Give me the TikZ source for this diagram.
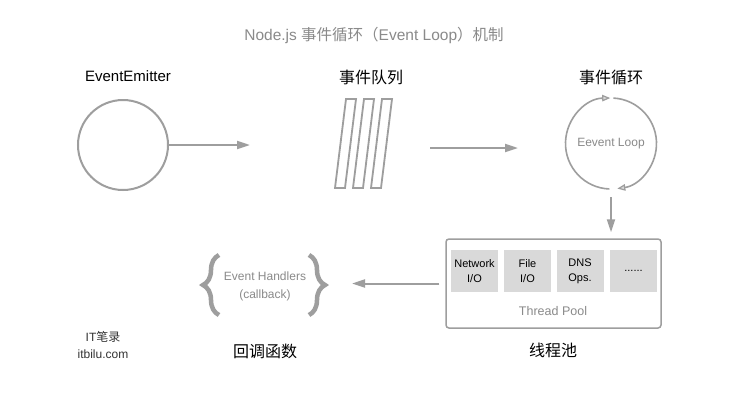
\documentclass[tikz,border=0pt]{standalone}
\usepackage{fontspec}
\setmainfont{Liberation Sans}
\newfontfamily\cjk{Noto Sans CJK SC}
\usetikzlibrary{arrows.meta,decorations.pathreplacing,calc}
\definecolor{linegray}{HTML}{9E9E9E}
\definecolor{titlegray}{HTML}{8A8A8A}
\definecolor{boxgray}{HTML}{D9D9D9}
\definecolor{markgray}{HTML}{333333}
\begin{document}
\begin{tikzpicture}[x=1pt,y=1pt,
  line/.style={draw=linegray,line width=2pt},
  conn/.style={line,-{Triangle[length=13pt,width=8pt]}},
  loopconn/.style={draw=linegray,line width=1.6pt,-{Triangle[open,length=8pt,width=6.5pt,line width=1.2pt,fill=linegray!40]}},
  head/.style={font=\cjk\fontsize{16}{18}\selectfont,text=black},
  titlestyle/.style={font=\fontsize{15.5}{18}\selectfont,text=titlegray},
  soft/.style={font=\fontsize{12}{18}\selectfont,text=titlegray,align=center},
  cell/.style={fill=boxgray,minimum width=47pt,minimum height=42pt,inner sep=0pt,
    align=center,font=\fontsize{11}{15}\selectfont,text=black},
  bracestyle/.style={draw=linegray,line width=4.5pt,decorate,decoration={brace,amplitude=16pt}},
  wmark/.style={font=\fontsize{12}{16}\selectfont,text=markgray}]
\useasboundingbox (0,0) rectangle (750,-400);
\fill[white] (0,0) rectangle (750,-400);

% title
\node[titlestyle] (title) at (374,-35) {Node.js {\cjk 事件循环（}Event Loop{\cjk ）机制}};

% EventEmitter
\node[font=\fontsize{15}{18}\selectfont,text=black] (emlabel) at (128,-76) {EventEmitter};
\node[circle,line,minimum size=90pt,inner sep=0pt] (em) at (123,-145) {};
\coordinate (emend) at (250,-145);
\draw[conn] (em.east) -- (emend);

% queue
\node[head] (qlabel) at (371,-77) {事件队列};
\foreach \dx in {0,18,36}{
  \draw[line,line width=1.8pt,line join=miter] (346+\dx,-99) -- (356+\dx,-99) -- (345+\dx,-188) -- (335+\dx,-188) -- cycle;
}
\coordinate (qa) at (430,-148);
\coordinate (qb) at (518,-148);
\draw[conn] (qa) -- (qb);

% event loop
\node[head] (looplabel) at (611,-77) {事件循环};
\node[circle,minimum size=91pt,inner sep=0pt,soft] (loop) at (611,-143.5) {Eevent Loop};
\draw[loopconn] ($(loop.center)+(-92:45.5)$) arc[start angle=-92,end angle=-269,radius=45.5];
\draw[loopconn] ($(loop.center)+(87:45.5)$) arc[start angle=87,end angle=-82,radius=45.5];

% thread pool
\node[draw=linegray,line width=1.5pt,rounded corners=3pt,minimum width=215pt,minimum height=89pt,inner sep=0pt] (pool) at (553.5,-283.5) {};
\node[cell] (net) at (474.5,-271) {Network\\I/O};
\node[cell] (file) at (527.5,-271) {File\\I/O};
\node[cell] (dns) at (580,-271) {DNS\\Ops.};
\node[cell] (more) at (633.5,-271) {......};
\node[soft,font=\fontsize{12.5}{18}\selectfont] (pooltext) at (553,-311) {Thread Pool};
\node[head] (poollabel) at (553,-350) {线程池};
\draw[conn,shorten <=8pt,shorten >=6pt] (loop.south) -- (loop.south |- pool.north);

% handlers
\coordinate (hend) at (352,-283.5);
\draw[conn,shorten <=6pt] (pool.west) -- (hend);
\coordinate (lb1) at (219,-315);
\coordinate (lb2) at (219,-255);
\coordinate (rb1) at (309,-255);
\coordinate (rb2) at (309,-315);
\draw[bracestyle] (lb1) -- (lb2);
\draw[bracestyle] (rb1) -- (rb2);
\node[soft] (handlers) at (265,-286) {Event Handlers\\(callback)};
\node[head] (cblabel) at (265,-351) {回调函数};

% watermark
\node[wmark] (wm1) at (103,-337) {IT{\cjk 笔录}};
\node[wmark] (wm2) at (103,-354) {itbilu.com};
\end{tikzpicture}
\end{document}
